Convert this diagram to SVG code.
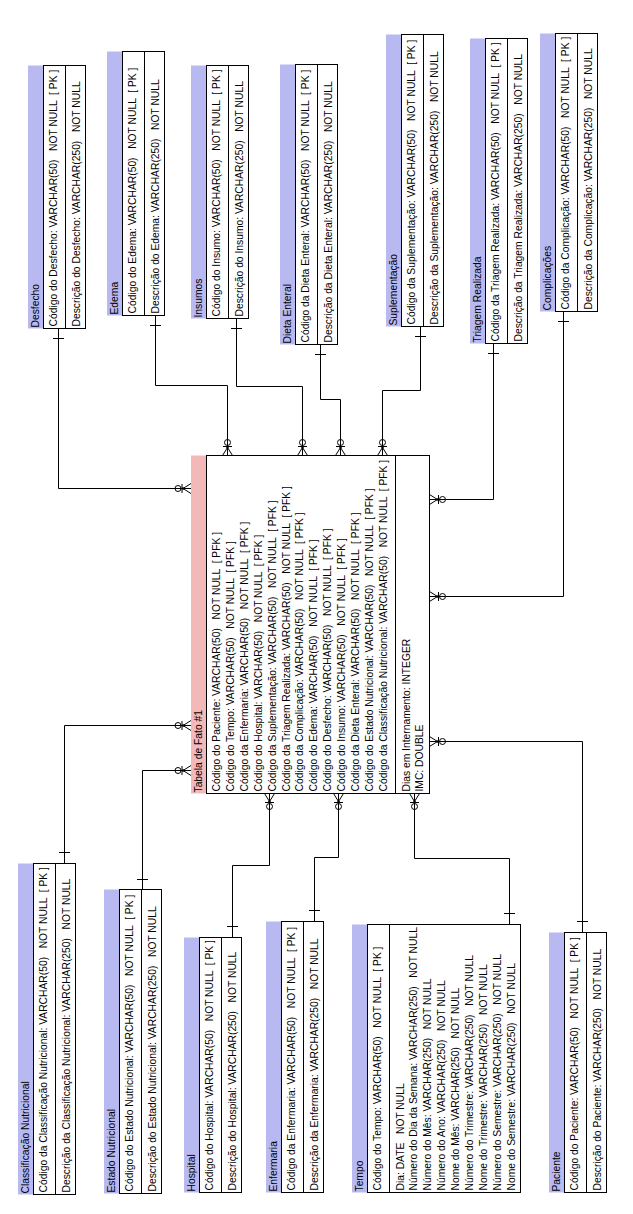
<svg xmlns="http://www.w3.org/2000/svg" xmlns:xlink="http://www.w3.org/1999/xlink" width="633" height="1214" viewBox="0 0 633 1214" xml:space="preserve">
<style>
.t{font-family:"Liberation Sans",Arial,sans-serif;font-size:10.3px;fill:#000;white-space:pre}
.hb{fill:#b9b9f2}
.hp{fill:#f3b9b9}
.box{fill:#fff;stroke:#000;stroke-width:1}
.sep{stroke:#000;stroke-width:1}
.cn path{fill:none;stroke:#000;stroke-width:1}
</style>
<defs>
<g id="crow">
<path d="M0,-5L8,0M0,5L8,0M0,0H8M9,-4.5V4.5" fill="none" stroke="#000" stroke-width="1"/>
<circle cx="13" cy="0" r="3" fill="none" stroke="#000" stroke-width="1"/>
<circle cx="8" cy="0" r="1.2" fill="#000"/>
</g>
</defs>
<rect width="633" height="1214" fill="#fff"/>

<g id="connectors" class="cn">
<path d="M58.5,328.5V488.5H191"/><path d="M53,338.5H64"/>
<path d="M155.5,315.5V385.5H227.5V455.5"/><path d="M150,325.5H161"/>
<path d="M236.5,318.5V386.5H302.5V455.5"/><path d="M231,328.5H242"/>
<path d="M320.5,344.5V399.5H340.5V455.5"/><path d="M315,354.5H326"/>
<path d="M420.5,326.5V390.5H382.5V455.5"/><path d="M415,336.5H426"/>
<path d="M493.5,343.5V499.5H429.5"/><path d="M488,353.5H499"/>
<path d="M563.5,311.5V596.5H429.5"/><path d="M558,321.5H569"/>
<path d="M429.5,741.5H582.5V932.5"/><path d="M577,921.5H588"/>
<path d="M414.5,793.5V858.5H509.5V924.5"/><path d="M504,913.5H515"/>
<path d="M338.5,793.5V857.5H314.5V921.5"/><path d="M309,910.5H320"/>
<path d="M269.5,793.5V865.5H232.5V937.5"/><path d="M227,926.5H238"/>
<path d="M191,770.5H142.5V889.5"/><path d="M137,879.5H148"/>
<path d="M191,725.5H64.5V863.5"/><path d="M59,852.5H70"/>
<use xlink:href="#crow" transform="translate(191,488.5) rotate(180)"/>
<use xlink:href="#crow" transform="translate(191,725.5) rotate(180)"/>
<use xlink:href="#crow" transform="translate(191,770.5) rotate(180)"/>
<use xlink:href="#crow" transform="translate(227.5,455.5) rotate(-90)"/>
<use xlink:href="#crow" transform="translate(302.5,455.5) rotate(-90)"/>
<use xlink:href="#crow" transform="translate(340.5,455.5) rotate(-90)"/>
<use xlink:href="#crow" transform="translate(382.5,455.5) rotate(-90)"/>
<use xlink:href="#crow" transform="translate(429.5,499.5)"/>
<use xlink:href="#crow" transform="translate(429.5,596.5)"/>
<use xlink:href="#crow" transform="translate(429.5,741.5)"/>
<use xlink:href="#crow" transform="translate(269.5,793.5) rotate(90)"/>
<use xlink:href="#crow" transform="translate(338.5,793.5) rotate(90)"/>
<use xlink:href="#crow" transform="translate(414.5,793.5) rotate(90)"/>
</g>

<g id="desfecho" transform="translate(28,328.5) rotate(-90)">
<rect class="hb" x="0" y="0" width="263" height="15"/>
<rect class="box" x="0" y="15.5" width="263" height="42"/>
<line class="sep" x1="0" y1="37.5" x2="263" y2="37.5"/>
<text class="t" x="1" y="11">Desfecho</text>
<text class="t" x="2" y="29">Código do Desfecho: VARCHAR(50)   NOT NULL  [ PK ]</text>
<text class="t" x="2" y="51.5">Descrição do Desfecho: VARCHAR(250)   NOT NULL</text>
</g>

<g id="edema" transform="translate(107,315.5) rotate(-90)">
<rect class="hb" x="0" y="0" width="264" height="15"/>
<rect class="box" x="0" y="15.5" width="264" height="42"/>
<line class="sep" x1="0" y1="37.5" x2="264" y2="37.5"/>
<text class="t" x="1" y="11">Edema</text>
<text class="t" x="2" y="29">Código do Edema: VARCHAR(50)   NOT NULL  [ PK ]</text>
<text class="t" x="2" y="51.5">Descrição do Edema: VARCHAR(250)   NOT NULL</text>
</g>

<g id="insumos" transform="translate(191,318.5) rotate(-90)">
<rect class="hb" x="0" y="0" width="253" height="15"/>
<rect class="box" x="0" y="15.5" width="253" height="42"/>
<line class="sep" x1="0" y1="37.5" x2="253" y2="37.5"/>
<text class="t" x="1" y="11">Insumos</text>
<text class="t" x="2" y="29">Código do Insumo: VARCHAR(50)   NOT NULL  [ PK ]</text>
<text class="t" x="2" y="51.5">Descrição do Insumo: VARCHAR(250)   NOT NULL</text>
</g>

<g id="dieta-enteral" transform="translate(280,344.5) rotate(-90)">
<rect class="hb" x="0" y="0" width="280" height="15"/>
<rect class="box" x="0" y="15.5" width="280" height="42"/>
<line class="sep" x1="0" y1="37.5" x2="280" y2="37.5"/>
<text class="t" x="1" y="11">Dieta Enteral</text>
<text class="t" x="2" y="29">Código da Dieta Enteral: VARCHAR(50)   NOT NULL  [ PK ]</text>
<text class="t" x="2" y="51.5">Descrição da Dieta Enteral: VARCHAR(250)   NOT NULL</text>
</g>

<g id="suplementacao" transform="translate(386,326.5) rotate(-90)">
<rect class="hb" x="0" y="0" width="292" height="15"/>
<rect class="box" x="0" y="15.5" width="292" height="42"/>
<line class="sep" x1="0" y1="37.5" x2="292" y2="37.5"/>
<text class="t" x="1" y="11">Suplementação</text>
<text class="t" x="2" y="29">Código da Suplementação: VARCHAR(50)   NOT NULL  [ PK ]</text>
<text class="t" x="2" y="51.5">Descrição da Suplementação: VARCHAR(250)   NOT NULL</text>
</g>

<g id="triagem-realizada" transform="translate(470,343.5) rotate(-90)">
<rect class="hb" x="0" y="0" width="305" height="15"/>
<rect class="box" x="0" y="15.5" width="305" height="42"/>
<line class="sep" x1="0" y1="37.5" x2="305" y2="37.5"/>
<text class="t" x="1" y="11">Triagem Realizada</text>
<text class="t" x="2" y="29">Código da Triagem Realizada: VARCHAR(50)   NOT NULL  [ PK ]</text>
<text class="t" x="2" y="51.5">Descrição da Triagem Realizada: VARCHAR(250)   NOT NULL</text>
</g>

<g id="complicacoes" transform="translate(540,311.5) rotate(-90)">
<rect class="hb" x="0" y="0" width="278" height="15"/>
<rect class="box" x="0" y="15.5" width="278" height="42"/>
<line class="sep" x1="0" y1="37.5" x2="278" y2="37.5"/>
<text class="t" x="1" y="11">Complicações</text>
<text class="t" x="2" y="29">Código da Complicação: VARCHAR(50)   NOT NULL  [ PK ]</text>
<text class="t" x="2" y="51.5">Descrição da Complicação: VARCHAR(250)   NOT NULL</text>
</g>

<g id="tabela-de-fato" transform="translate(191,793.5) rotate(-90)">
<rect class="hp" x="0" y="0" width="338" height="15"/>
<rect class="box" x="0" y="15.5" width="338" height="223"/>
<line class="sep" x1="0" y1="204.5" x2="338" y2="204.5"/>
<text class="t" x="1" y="11">Tabela de Fato #1</text>
<text class="t" x="2" y="29">Código do Paciente: VARCHAR(50)   NOT NULL  [ PFK ]</text>
<text class="t" x="2" y="42.9">Código do Tempo: VARCHAR(50)   NOT NULL  [ PFK ]</text>
<text class="t" x="2" y="56.8">Código da Enfermaria: VARCHAR(50)   NOT NULL  [ PFK ]</text>
<text class="t" x="2" y="70.7">Código do Hospital: VARCHAR(50)   NOT NULL  [ PFK ]</text>
<text class="t" x="2" y="84.6">Código da Suplementação: VARCHAR(50)   NOT NULL  [ PFK ]</text>
<text class="t" x="2" y="98.5">Código da Triagem Realizada: VARCHAR(50)   NOT NULL  [ PFK ]</text>
<text class="t" x="2" y="112.4">Código da Complicação: VARCHAR(50)   NOT NULL  [ PFK ]</text>
<text class="t" x="2" y="126.3">Código do Edema: VARCHAR(50)   NOT NULL  [ PFK ]</text>
<text class="t" x="2" y="140.2">Código do Desfecho: VARCHAR(50)   NOT NULL  [ PFK ]</text>
<text class="t" x="2" y="154.1">Código do Insumo: VARCHAR(50)   NOT NULL  [ PFK ]</text>
<text class="t" x="2" y="168">Código da Dieta Enteral: VARCHAR(50)   NOT NULL  [ PFK ]</text>
<text class="t" x="2" y="181.9">Código do Estado Nutricional: VARCHAR(50)   NOT NULL  [ PFK ]</text>
<text class="t" x="2" y="195.8">Código da Classificação Nutricional: VARCHAR(50)   NOT NULL  [ PFK ]</text>
<text class="t" x="2" y="218.5">Dias em Internamento: INTEGER</text>
<text class="t" x="2" y="232.4">IMC: DOUBLE</text>
</g>

<g id="classificacao-nutricional" transform="translate(18,1194.5) rotate(-90)">
<rect class="hb" x="0" y="0" width="331" height="15"/>
<rect class="box" x="0" y="15.5" width="331" height="42"/>
<line class="sep" x1="0" y1="37.5" x2="331" y2="37.5"/>
<text class="t" x="1" y="11">Classificação Nutricional</text>
<text class="t" x="2" y="29">Código da Classificação Nutricional: VARCHAR(50)   NOT NULL  [ PK ]</text>
<text class="t" x="2" y="51.5">Descrição da Classificação Nutricional: VARCHAR(250)   NOT NULL</text>
</g>

<g id="estado-nutricional" transform="translate(104,1193.5) rotate(-90)">
<rect class="hb" x="0" y="0" width="304" height="15"/>
<rect class="box" x="0" y="15.5" width="304" height="42"/>
<line class="sep" x1="0" y1="37.5" x2="304" y2="37.5"/>
<text class="t" x="1" y="11">Estado Nutricional</text>
<text class="t" x="2" y="29">Código do Estado Nutricional: VARCHAR(50)   NOT NULL  [ PK ]</text>
<text class="t" x="2" y="51.5">Descrição do Estado Nutricional: VARCHAR(250)   NOT NULL</text>
</g>

<g id="hospital" transform="translate(184,1192.5) rotate(-90)">
<rect class="hb" x="0" y="0" width="255" height="15"/>
<rect class="box" x="0" y="15.5" width="255" height="42"/>
<line class="sep" x1="0" y1="37.5" x2="255" y2="37.5"/>
<text class="t" x="1" y="11">Hospital</text>
<text class="t" x="2" y="29">Código do Hospital: VARCHAR(50)   NOT NULL  [ PK ]</text>
<text class="t" x="2" y="51.5">Descrição do Hospital: VARCHAR(250)   NOT NULL</text>
</g>

<g id="enfermaria" transform="translate(266,1192.5) rotate(-90)">
<rect class="hb" x="0" y="0" width="271" height="15"/>
<rect class="box" x="0" y="15.5" width="271" height="42"/>
<line class="sep" x1="0" y1="37.5" x2="271" y2="37.5"/>
<text class="t" x="1" y="11">Enfermaria</text>
<text class="t" x="2" y="29">Código da Enfermaria: VARCHAR(50)   NOT NULL  [ PK ]</text>
<text class="t" x="2" y="51.5">Descrição da Enfermaria: VARCHAR(250)   NOT NULL</text>
</g>

<g id="tempo" transform="translate(352,1192.5) rotate(-90)">
<rect class="hb" x="0" y="0" width="268" height="15"/>
<rect class="box" x="0" y="15.5" width="268" height="153"/>
<line class="sep" x1="0" y1="37.5" x2="268" y2="37.5"/>
<text class="t" x="1" y="11">Tempo</text>
<text class="t" x="2" y="29">Código do Tempo: VARCHAR(50)   NOT NULL  [ PK ]</text>
<text class="t" x="2" y="51.5">Dia: DATE   NOT NULL</text>
<text class="t" x="2" y="65.4">Número do Dia da Semana: VARCHAR(250)   NOT NULL</text>
<text class="t" x="2" y="79.3">Número do Mês: VARCHAR(250)   NOT NULL</text>
<text class="t" x="2" y="93.2">Número do Ano: VARCHAR(250)   NOT NULL</text>
<text class="t" x="2" y="107.1">Nome do Mês: VARCHAR(250)   NOT NULL</text>
<text class="t" x="2" y="121">Número do Trimestre: VARCHAR(250)   NOT NULL</text>
<text class="t" x="2" y="134.9">Nome do Trimestre: VARCHAR(250)   NOT NULL</text>
<text class="t" x="2" y="148.8">Número do Semestre: VARCHAR(250)   NOT NULL</text>
<text class="t" x="2" y="162.7">Nome do Semestre: VARCHAR(250)   NOT NULL</text>
</g>

<g id="paciente" transform="translate(549,1192.5) rotate(-90)">
<rect class="hb" x="0" y="0" width="260" height="15"/>
<rect class="box" x="0" y="15.5" width="260" height="42"/>
<line class="sep" x1="0" y1="37.5" x2="260" y2="37.5"/>
<text class="t" x="1" y="11">Paciente</text>
<text class="t" x="2" y="29">Código do Paciente: VARCHAR(50)   NOT NULL  [ PK ]</text>
<text class="t" x="2" y="51.5">Descrição do Paciente: VARCHAR(250)   NOT NULL</text>
</g>
</svg>
